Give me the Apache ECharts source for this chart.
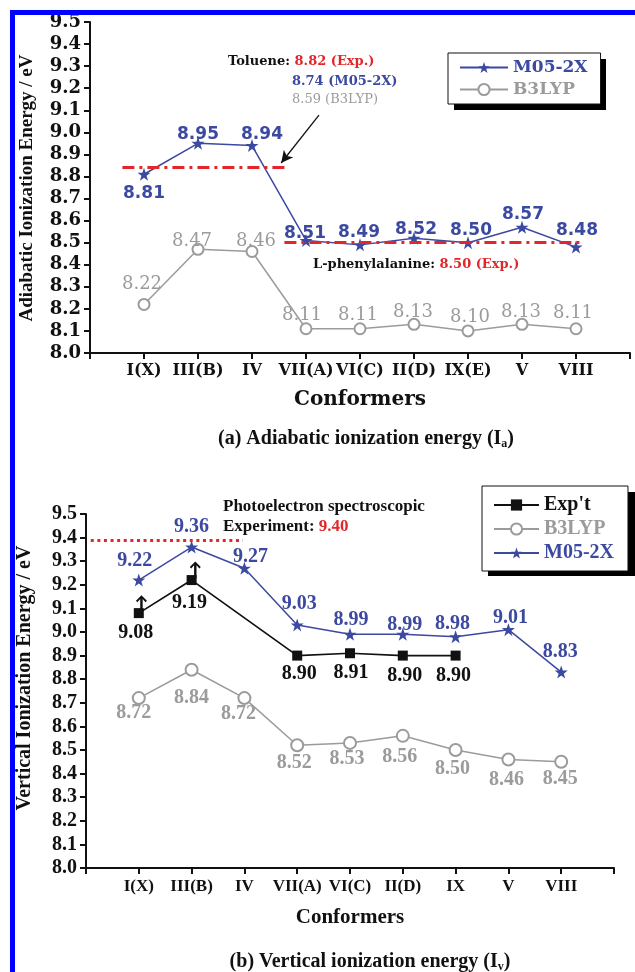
<!DOCTYPE html>
<html><head><meta charset="utf-8">
<script src="https://cdn.jsdelivr.net/npm/echarts@6/dist/echarts.min.js"></script>
<style>html,body{margin:0;padding:0;background:#fff}#c{width:635px;height:972px}</style>
</head><body><div id="c"></div>
<script>
// ---------- data: (a) adiabatic ionization energy ----------
const categoriesA = ['I(X)','III(B)','IV','VII(A)','VI(C)','II(D)','IX(E)','V','VIII'];
const m052xA = [8.81, 8.95, 8.94, 8.51, 8.49, 8.52, 8.50, 8.57, 8.48];
const b3lypA = [8.22, 8.47, 8.46, 8.11, 8.11, 8.13, 8.10, 8.13, 8.11];
const tolueneLevel = 8.84;
const pheLevel = 8.50;
const yTicksA = [8.0, 9.5, 0.1];

// ---------- data: (b) vertical ionization energy ----------
const categoriesB = ['I(X)','III(B)','IV','VII(A)','VI(C)','II(D)','IX','V','VIII'];
const expB = [9.08, 9.22, null, 8.90, 8.91, 8.90, 8.90, null, null];
const expLabelsB = ['9.08','9.19','','8.90','8.91','8.90','8.90','',''];
const b3lypB = [8.72, 8.84, 8.72, 8.52, 8.53, 8.56, 8.50, 8.46, 8.45];
const m052xB = [9.22, 9.36, 9.27, 9.03, 8.99, 8.99, 8.98, 9.01, 8.83];
const pesLevel = 9.39;
const yTicksB = [8.0, 9.5, 0.1];

// ---------- styling ----------
const BLUE = '#3c49a1', GRAY = '#9b9b9b', RED = '#e3262b', BLACK = '#111';
const DJS = 'DejaVu Serif', LS = 'Liberation Serif', DJSANS = 'DejaVu Sans';
const STAR = 'path://M12,0 L14.9,8.3 L23.4,8.3 L16.5,13.4 L19.1,21.7 L12,16.6 L4.9,21.7 L7.5,13.4 L0.6,8.3 L9.1,8.3 Z';
const UPARROW = 'path://M3.9,16 L3.9,3.6 L1.3,6.6 L0,5.3 L5,0 L10,5.3 L8.7,6.6 L6.1,3.6 L6.1,16 Z';

// label offsets (layout only)
const offM05A = [[0,19],[0,-9],[10,-11],[-1,-7],[-1,-12],[2,-9],[3,-12],[1,-13],[1,-17]];
const offB3A  = [[-2,-20],[-6,-8],[4,-10],[-4,-13],[-2,-13],[-1,-12],[2,-14],[-1,-12],[-3,-15]];
const offM05B = [[-4,-19],[0,-20],[6,-11],[2,-21],[1,-15],[2,-10],[-3,-13],[2,-12],[-1,-20]];
const offExpB = [[-3,20],[-2,23],null,[2,18],[1,20],[2,20],[-2,20],null,null];
const offB3B  = [[-5,15],[0,28],[-6,16],[-3,18],[-3,16],[-3,21],[-3,19],[-2,20],[-1,17]];

function build(vals, offs, texts) {
  const out = [];
  vals.forEach((v, i) => {
    if (v == null) return;
    const o = offs[i] || [0, 0];
    out.push({ value: [i + 1, v], label: { offset: [o[0], o[1]], formatter: texts ? texts[i] : v.toFixed(2) } });
  });
  return out;
}
function lbl(font, size, weight, color) {
  return { show: true, position: 'inside', align: 'center', verticalAlign: 'middle',
           fontFamily: font, fontSize: size, fontWeight: weight, color: color };
}
function xAxisCfg(idx, cats, font, size) {
  return {
    type: 'value', gridIndex: idx, min: 0, max: 10, interval: 1,
    axisLine: { lineStyle: { color: BLACK, width: 2 } },
    axisTick: { show: true, length: 6, lineStyle: { color: BLACK, width: 2 } },
    splitLine: { show: false },
    axisLabel: { margin: 10, fontFamily: font, fontWeight: 'bold', fontSize: size, color: BLACK,
                 formatter: v => cats[v - 1] || '' },
    name: 'Conformers', nameLocation: 'middle',
    nameTextStyle: { fontFamily: font, fontWeight: 'bold', fontSize: 20, color: BLACK }
  };
}
function yAxisCfg(idx, t, font, size) {
  return {
    type: 'value', gridIndex: idx, min: t[0], max: t[1], interval: t[2],
    axisLine: { show: true, lineStyle: { color: BLACK, width: 2 } },
    axisTick: { show: true, length: 6, lineStyle: { color: BLACK, width: 2 } },
    splitLine: { show: false },
    axisLabel: { margin: 9, fontFamily: font, fontWeight: 'bold', fontSize: size, color: BLACK,
                 formatter: v => v.toFixed(1) }
  };
}

const chart = echarts.init(document.getElementById('c'), null, { renderer: 'canvas' });
const xa = xAxisCfg(0, categoriesA, DJS, 16); xa.nameGap = 37;
const xb = xAxisCfg(1, categoriesB, LS, 17); xb.nameGap = 39; xb.nameTextStyle.fontSize = 21;

chart.setOption({
  animation: false,
  backgroundColor: '#fff',
  grid: [
    { left: 90, top: 22, width: 540, height: 331 },
    { left: 86, top: 514, width: 528, height: 354 }
  ],
  xAxis: [xa, xb],
  yAxis: [yAxisCfg(0, yTicksA, DJS, 18), yAxisCfg(1, yTicksB, LS, 20)],
  legend: [
    { orient: 'vertical', left: 448, top: 53, padding: [6, 13, 6, 11], itemGap: 5,
      itemWidth: 48, itemHeight: 14, borderColor: BLACK, borderWidth: 1, borderRadius: 0,
      backgroundColor: '#fff', z: 10,
      textStyle: { fontFamily: DJS, fontWeight: 'bold', fontSize: 17 },
      data: [ { name: 'M05-2X', textStyle: { color: BLUE } }, { name: 'B3LYP', textStyle: { color: GRAY } } ] },
    { orient: 'vertical', left: 482, top: 486, padding: [9, 14, 8, 11], itemGap: 4,
      itemWidth: 45, itemHeight: 14, borderColor: BLACK, borderWidth: 1, borderRadius: 0,
      backgroundColor: '#fff', z: 10,
      textStyle: { fontFamily: LS, fontWeight: 'bold', fontSize: 20 },
      data: [ { name: "Exp't", textStyle: { color: BLACK } }, { name: 'B3LYP', textStyle: { color: GRAY } },
              { name: 'M05-2X', textStyle: { color: BLUE } } ] }
  ],
  series: [
    // ----- (a) -----
    { name: 'B3LYP', type: 'line', xAxisIndex: 0, yAxisIndex: 0, data: build(b3lypA, offB3A),
      symbol: 'emptyCircle', symbolSize: 11, itemStyle: { color: GRAY, borderColor: GRAY, borderWidth: 1.3 },
      lineStyle: { color: GRAY, width: 1.5 }, label: lbl(DJS, 18, 'normal', GRAY),
      markLine: { silent: true, symbol: ['none', 'arrow'], symbolSize: [9, 12], label: { show: false },
        lineStyle: { color: BLACK, width: 1.3, type: 'solid' },
        data: [[ { coord: [4.24, 9.078] }, { coord: [3.54, 8.861] } ]] } },
    { name: 'M05-2X', type: 'line', xAxisIndex: 0, yAxisIndex: 0, data: build(m052xA, offM05A),
      symbol: STAR, symbolSize: 13, itemStyle: { color: BLUE }, lineStyle: { color: BLUE, width: 1.5 },
      label: lbl(DJSANS, 17, 'bold', BLUE), z: 3,
      markLine: { silent: true, symbol: ['none', 'none'], label: { show: false },
        lineStyle: { color: RED, width: 3, type: [12, 5, 3, 5] },
        data: [
          [ { coord: [0.6, tolueneLevel] }, { coord: [3.6, tolueneLevel] } ],
          [ { coord: [3.6, pheLevel] }, { coord: [9.1, pheLevel] } ]
        ] } },
    // ----- (b) -----
    { name: "Exp't", type: 'line', xAxisIndex: 1, yAxisIndex: 1, data: build(expB, offExpB, expLabelsB),
      symbol: 'rect', symbolSize: 10, itemStyle: { color: BLACK }, lineStyle: { color: BLACK, width: 1.7 },
      label: lbl(LS, 20, 'bold', BLACK),
      markPoint: { silent: true, symbol: UPARROW, symbolSize: [11, 17], itemStyle: { color: BLACK },
        label: { show: false },
        data: [ { coord: [1.05, 9.12] }, { coord: [2.07, 9.263] } ] } },
    { name: 'B3LYP', type: 'line', xAxisIndex: 1, yAxisIndex: 1, data: build(b3lypB, offB3B),
      symbol: 'emptyCircle', symbolSize: 12, itemStyle: { color: GRAY, borderColor: GRAY, borderWidth: 1.3 },
      lineStyle: { color: GRAY, width: 1.5 }, label: lbl(LS, 20, 'bold', GRAY) },
    { name: 'M05-2X', type: 'line', xAxisIndex: 1, yAxisIndex: 1, data: build(m052xB, offM05B),
      symbol: STAR, symbolSize: 13, itemStyle: { color: BLUE }, lineStyle: { color: BLUE, width: 1.5 },
      label: lbl(LS, 20, 'bold', BLUE),
      markLine: { silent: true, symbol: ['none', 'none'], label: { show: false },
        lineStyle: { color: RED, width: 3, type: [3, 3.6] },
        data: [[ { coord: [0.09, pesLevel] }, { coord: [2.97, pesLevel] } ]] } }
  ],
  graphic: [
    { type: 'rect', shape: { x: 10, y: 10, width: 625, height: 5 }, style: { fill: '#0000ff' }, z: 100 },
    { type: 'rect', shape: { x: 10, y: 10, width: 5, height: 962 }, style: { fill: '#0000ff' }, z: 100 },
    // legend drop shadows
    { type: 'rect', shape: { x: 454, y: 59, width: 152, height: 51 }, style: { fill: '#000' }, z: 1 },
    { type: 'rect', shape: { x: 488, y: 492, width: 147, height: 84 }, style: { fill: '#000' }, z: 1 },
    // y-axis titles
    { type: 'text', x: 27, y: 188, rotation: Math.PI / 2,
      style: { text: 'Adiabatic Ionization Energy / eV', font: 'bold 19px "Liberation Serif"', fill: BLACK,
               align: 'center', verticalAlign: 'middle' } },
    { type: 'text', x: 25, y: 678, rotation: Math.PI / 2,
      style: { text: 'Vertical Ionization Energy / eV', font: 'bold 20px "Liberation Serif"', fill: BLACK,
               align: 'center', verticalAlign: 'middle' } },
    // annotations (a)
    { type: 'text', x: 228, y: 62, style: { text: '{k|Toluene: }{r|8.82 (Exp.)}', verticalAlign: 'middle',
      rich: { k: { fontFamily: DJS, fontWeight: 'bold', fontSize: 13, fill: BLACK },
              r: { fontFamily: DJS, fontWeight: 'bold', fontSize: 13, fill: RED } } } },
    { type: 'text', x: 292, y: 82, style: { text: '8.74 (M05-2X)', font: 'bold 13px "DejaVu Serif"', fill: BLUE, verticalAlign: 'middle' } },
    { type: 'text', x: 292, y: 100, style: { text: '8.59 (B3LYP)', font: '13px "DejaVu Serif"', fill: GRAY, verticalAlign: 'middle' } },
    { type: 'text', x: 313, y: 265, style: { text: '{k|L-phenylalanine: }{r|8.50 (Exp.)}', verticalAlign: 'middle',
      rich: { k: { fontFamily: DJS, fontWeight: 'bold', fontSize: 13, fill: BLACK },
              r: { fontFamily: DJS, fontWeight: 'bold', fontSize: 13, fill: RED } } } },
    // annotations (b)
    { type: 'text', x: 223, y: 507, style: { text: 'Photoelectron spectroscopic', font: 'bold 17px "Liberation Serif"', fill: BLACK, verticalAlign: 'middle' } },
    { type: 'text', x: 223, y: 527, style: { text: '{k|Experiment: }{r|9.40}', verticalAlign: 'middle',
      rich: { k: { fontFamily: LS, fontWeight: 'bold', fontSize: 17, fill: BLACK },
              r: { fontFamily: LS, fontWeight: 'bold', fontSize: 17, fill: RED } } } },
    // captions
    { type: 'text', x: 366, y: 439, style: { text: '{m|(a) Adiabatic ionization energy (I}{s|a}{m|)}', align: 'center', verticalAlign: 'middle',
      rich: { m: { fontFamily: LS, fontWeight: 'bold', fontSize: 20, fill: BLACK, lineHeight: 22 },
              s: { fontFamily: LS, fontWeight: 'bold', fontSize: 12, fill: BLACK, lineHeight: 22, verticalAlign: 'bottom' } } } },
    { type: 'text', x: 370, y: 962, style: { text: '{m|(b) Vertical ionization energy (I}{s|v}{m|)}', align: 'center', verticalAlign: 'middle',
      rich: { m: { fontFamily: LS, fontWeight: 'bold', fontSize: 20, fill: BLACK, lineHeight: 22 },
              s: { fontFamily: LS, fontWeight: 'bold', fontSize: 12, fill: BLACK, lineHeight: 22, verticalAlign: 'bottom' } } } }
  ]
});
</script></body></html>
